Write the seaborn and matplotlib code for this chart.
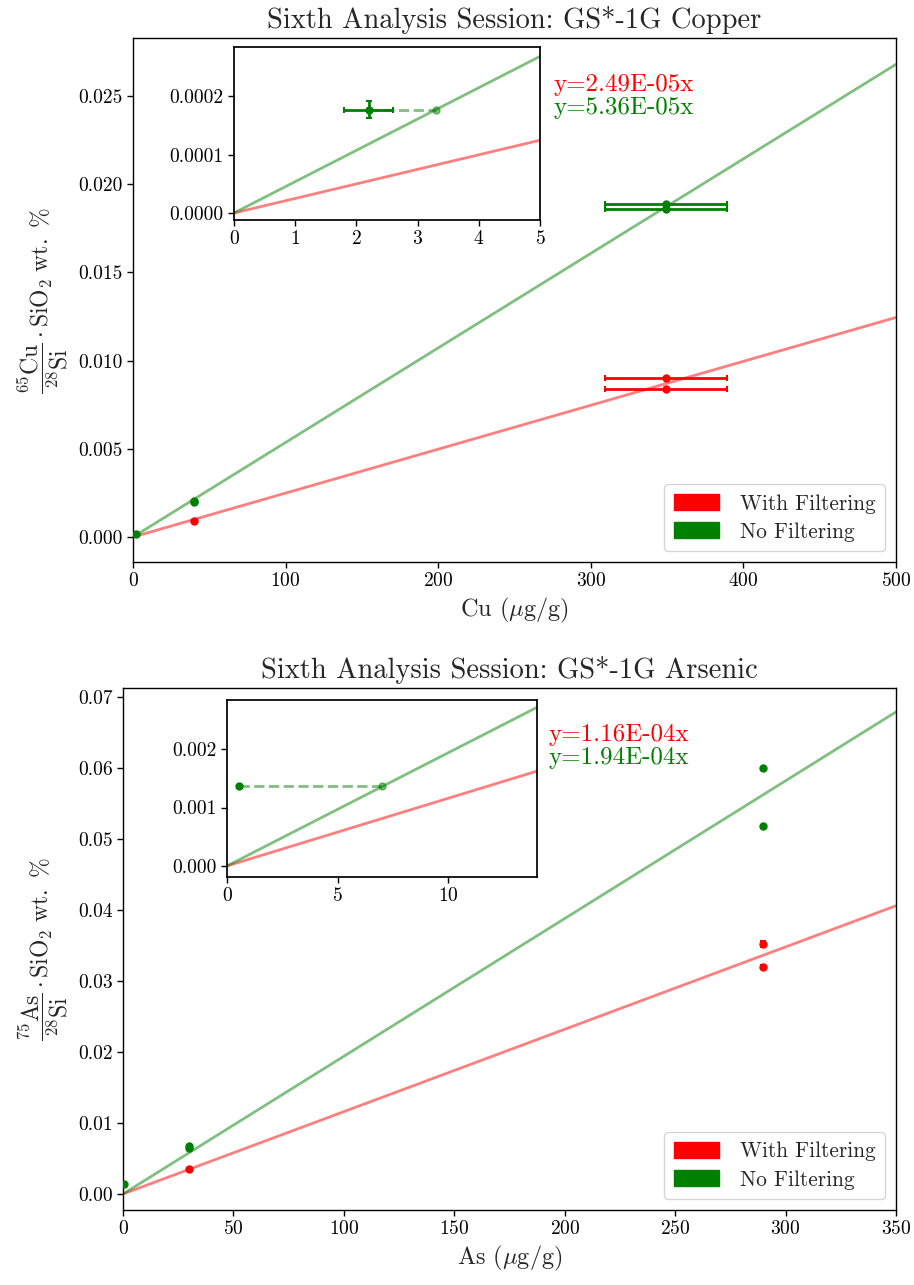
import numpy as np
import pandas as pd
import seaborn as sns
import matplotlib
matplotlib.use("Agg")
import matplotlib.pyplot as plt
import matplotlib.patches as mpatches
from matplotlib.ticker import FormatStrFormatter

sns.set_theme(style="ticks")
plt.rcParams["font.family"] = ["cmr10", "DejaVu Serif"]
plt.rcParams["mathtext.fontset"] = "cm"
plt.rcParams["axes.formatter.use_mathtext"] = True
plt.rcParams["axes.unicode_minus"] = False
plt.rcParams["axes.edgecolor"] = "black"
plt.rcParams["xtick.color"] = "black"
plt.rcParams["ytick.color"] = "black"

# ---- Copper calibration data ----
cu_slope_filt = 2.49e-05
cu_slope_nofilt = 5.36e-05
cu_xmax = 500
cu_filt_x = [40, 349, 349]
cu_filt_y = [0.00091, 0.0090, 0.00839]
cu_filt_xerr = [0, 40, 40]
cu_filt_yerr = [0.00003, 0.00006, 0.00006]
cu_nofilt_x = [40, 40, 349, 349]
cu_nofilt_y = [0.00196, 0.00204, 0.01888, 0.01859]
cu_nofilt_xerr = [0, 0, 40, 40]
cu_nofilt_yerr = [0.00004, 0.00004, 0.00008, 0.00008]
cu_lod_x = 2.2
cu_lod_y = 0.000177
cu_lod_xerr = 0.4
cu_lod_yerr = 0.000015

# ---- Arsenic calibration data ----
as_slope_filt = 1.16e-04
as_slope_nofilt = 1.94e-04
as_xmax = 350
as_filt_x = [30, 290, 290]
as_filt_y = [0.00352, 0.03517, 0.03202]
as_filt_xerr = [0, 0, 0]
as_filt_yerr = [0.0001, 0.0004, 0.0002]
as_nofilt_x = [30, 30, 290, 290]
as_nofilt_y = [0.0065, 0.0068, 0.0600, 0.0518]
as_nofilt_xerr = [0, 0, 0, 0]
as_nofilt_yerr = [0.0001, 0.0001, 0.0002, 0.0002]
as_lod_x = 0.55
as_lod_y = 0.00136
as_lod_xerr = 0.0
as_lod_yerr = 0.00003

RED = "#ff0000"
GREEN = "#008000"
TICK_SIZE = 14


def fit_lines(ax, slope_f, slope_n, xmax):
    xs = np.array([0.0, xmax])
    df = pd.DataFrame({
        "x": np.concatenate([xs, xs]),
        "y": np.concatenate([slope_f * xs, slope_n * xs]),
        "fit": ["With Filtering"] * 2 + ["No Filtering"] * 2,
    })
    sns.lineplot(data=df, x="x", y="y", hue="fit",
                 palette={"With Filtering": RED, "No Filtering": GREEN},
                 alpha=0.5, linewidth=2, legend=False, ax=ax)


def points(ax, x, y, xerr, yerr, color):
    ax.errorbar(x, y, xerr=xerr, yerr=yerr, fmt="o", color=color,
                markersize=5, elinewidth=2, capsize=2.5, capthick=1.5,
                zorder=3)


def lod(ax, x, y, xerr, yerr, slope, marker_size=5):
    x_cal = y / slope
    ax.plot([x, x_cal], [y, y], "--", color=GREEN, alpha=0.5, linewidth=2)
    ax.plot([x_cal], [y], "o", color=GREEN, alpha=0.5, markersize=marker_size)
    ax.errorbar([x], [y], xerr=[xerr] if xerr else None, yerr=[yerr],
                fmt="o", color=GREEN, markersize=marker_size, elinewidth=2,
                capsize=2.5, capthick=1.5, zorder=3)


def panel(fig, rect, inset_rect, title, xlabel, ylabel,
          slope_f, slope_n, xmax, ylim, yticks, yfmt,
          fx, fy, fxe, fye, nx, ny, nxe, nye,
          lx, ly, lxe, lye,
          in_xlim, in_ylim, in_xticks, in_yticks, in_yfmt,
          txt_f, txt_n):
    ax = fig.add_axes(rect)
    fit_lines(ax, slope_f, slope_n, xmax)
    points(ax, fx, fy, fxe, fye, RED)
    points(ax, nx, ny, nxe, nye, GREEN)
    ax.errorbar([lx], [ly], xerr=[lxe] if lxe else None, yerr=[lye],
                fmt="o", color=GREEN, markersize=5, elinewidth=2,
                capsize=2.5, capthick=1.5, zorder=3)
    ax.set_xlim(0, xmax)
    ax.set_ylim(*ylim)
    ax.set_yticks(yticks)
    ax.yaxis.set_major_formatter(FormatStrFormatter(yfmt))
    ax.set_title(title, fontsize=20.5, pad=7)
    ax.set_xlabel(xlabel, fontsize=17.5, labelpad=4)
    ax.set_ylabel(ylabel, fontsize=17, labelpad=6)
    ax.tick_params(labelsize=TICK_SIZE, length=4, width=1)
    for s in ax.spines.values():
        s.set_linewidth(1.0)
    ax.text(0.551, 0.910, txt_f, color=RED, fontsize=18,
            transform=ax.transAxes, va="center", ha="left")
    ax.text(0.551, 0.866, txt_n, color=GREEN, fontsize=18,
            transform=ax.transAxes, va="center", ha="left")
    handles = [mpatches.Patch(color=RED, label="With Filtering"),
               mpatches.Patch(color=GREEN, label="No Filtering")]
    ax.legend(handles=handles, loc="lower right", fontsize=15.4,
              handlelength=2.1, handleheight=0.8, borderpad=0.45,
              labelspacing=0.4, handletextpad=1.0)

    ins = fig.add_axes(inset_rect)
    fit_lines(ins, slope_f, slope_n, in_xlim[1])
    lod(ins, lx, ly, lxe, lye, slope_n)
    ins.set_xlim(*in_xlim)
    ins.set_ylim(*in_ylim)
    ins.set_xticks(in_xticks)
    ins.set_yticks(in_yticks)
    ins.yaxis.set_major_formatter(FormatStrFormatter(in_yfmt))
    ins.set_xlabel("")
    ins.set_ylabel("")
    ins.tick_params(labelsize=TICK_SIZE, length=4, width=1)
    return ax, ins


fig = plt.figure(figsize=(9.14, 12.85), dpi=100)

panel(fig, [0.1455, 0.5626, 0.8348, 0.4078], [0.256, 0.8288, 0.3348, 0.1346],
      "Sixth Analysis Session: GS*-1G Copper", r"Cu ($\mu$g/g)",
      r"$\dfrac{^{65}\mathrm{Cu}}{^{28}\mathrm{Si}}\cdot\mathrm{SiO_2}\ \mathrm{wt.}\ \%$",
      cu_slope_filt, cu_slope_nofilt, cu_xmax, (-0.00142, 0.02829),
      np.arange(0, 0.0251, 0.005), "%.3f",
      cu_filt_x, cu_filt_y, cu_filt_xerr, cu_filt_yerr,
      cu_nofilt_x, cu_nofilt_y, cu_nofilt_xerr, cu_nofilt_yerr,
      cu_lod_x, cu_lod_y, cu_lod_xerr, cu_lod_yerr,
      (0, 5), (-0.000012, 0.000284), [0, 1, 2, 3, 4, 5],
      [0, 0.0001, 0.0002], "%.4f",
      "y=2.49E-05x", "y=5.36E-05x")

panel(fig, [0.1346, 0.0584, 0.8457, 0.4062], [0.2484, 0.3175, 0.3392, 0.1377],
      "Sixth Analysis Session: GS*-1G Arsenic", r"As ($\mu$g/g)",
      r"$\dfrac{^{75}\mathrm{As}}{^{28}\mathrm{Si}}\cdot\mathrm{SiO_2}\ \mathrm{wt.}\ \%$",
      as_slope_filt, as_slope_nofilt, as_xmax, (-0.00225, 0.07127),
      np.arange(0, 0.0701, 0.01), "%.2f",
      as_filt_x, as_filt_y, as_filt_xerr, as_filt_yerr,
      as_nofilt_x, as_nofilt_y, as_nofilt_xerr, as_nofilt_yerr,
      as_lod_x, as_lod_y, as_lod_xerr, as_lod_yerr,
      (0, 14), (-0.00019, 0.00284), [0, 5, 10],
      [0, 0.001, 0.002], "%.3f",
      "y=1.16E-04x", "y=1.94E-04x")

fig.savefig("out.png", dpi=100)
